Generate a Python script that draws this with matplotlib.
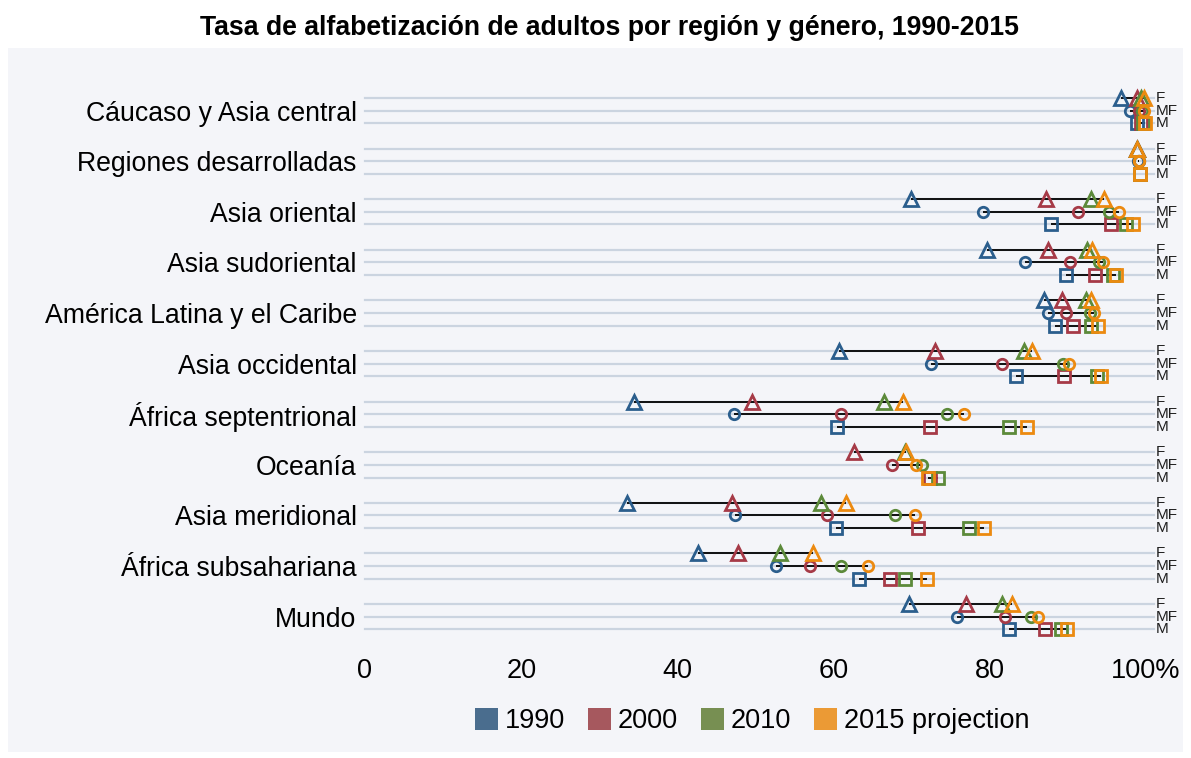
import numpy as np
import matplotlib
matplotlib.use("Agg")
import matplotlib.pyplot as plt
from matplotlib.patches import Rectangle, Patch

plt.rcParams['font.family'] = ['Liberation Sans', 'DejaVu Sans']

nan = np.nan
regions = ["Cáucaso y Asia central", "Regiones desarrolladas", "Asia oriental",
           "Asia sudoriental", "América Latina y el Caribe", "Asia occidental",
           "África septentrional", "Oceanía", "Asia meridional",
           "África subsahariana", "Mundo"]
genders = ["F", "MF", "M"]
years = ["1990", "2000", "2010", "2015 projection"]

F_1990 = [96.8, 98.8, 69.9, 79.6, 86.9, 60.7, 34.4, nan, 33.6, 42.6, 69.7]
F_2000 = [98.8, 98.9, 87.2, 87.4, 89.2, 73.0, 49.6, 62.6, 47.0, 47.7, 77.0]
F_2010 = [99.3, 98.9, 92.9, 92.4, 92.3, 84.4, 66.5, 69.1, 58.4, 53.1, 81.6]
F_2015 = [99.8, 98.9, 94.6, 93.1, 92.9, 85.4, 68.9, 69.3, 61.6, 57.3, 82.8]

MF_1990 = [97.9, 99.0, 79.1, 84.5, 87.5, 72.5, 47.3, nan, 47.4, 52.6, 75.8]
MF_2000 = [99.1, 99.1, 91.3, 90.3, 89.8, 81.5, 61.0, 67.5, 59.2, 57.0, 81.9]
MF_2010 = [99.5, 99.1, 95.2, 94.0, 92.8, 89.4, 74.5, 71.3, 67.9, 60.9, 85.3]
MF_2015 = [99.8, 99.1, 96.5, 94.5, 93.3, 90.2, 76.7, 70.6, 70.4, 64.4, 86.2]

M_1990 = [98.8, 99.2, 87.8, 89.8, 88.4, 83.4, 60.4, nan, 60.3, 63.2, 82.5]
M_2000 = [99.3, 99.2, 95.5, 93.5, 90.7, 89.5, 72.3, 72.4, 70.8, 67.2, 87.1]
M_2010 = [99.6, 99.2, 97.5, 95.8, 93.0, 93.7, 82.4, 73.4, 77.3, 69.2, 89.1]
M_2015 = [99.9, 99.2, 98.3, 96.2, 93.8, 94.3, 84.8, 72.1, 79.2, 71.9, 89.9]

data = {
    "F": [F_1990, F_2000, F_2010, F_2015],
    "MF": [MF_1990, MF_2000, MF_2010, MF_2015],
    "M": [M_1990, M_2000, M_2010, M_2015],
}
markers = {"F": "^", "MF": "o", "M": "s"}
msizes = {"F": 9.8, "MF": 7.5, "M": 8.5}
mcolors = ['#2B5E8D', '#A63A47', '#5C8A3A', '#EC8A10']
lcolors = ['#4A6D8E', '#A6585E', '#778F52', '#EB9A35']
xticks = [0, 20, 40, 60, 80, 100]
xticklabels = ["0", "20", "40", "60", "80", "100%"]

W, H = 1191, 758
BG = '#F4F5F9'
fig = plt.figure(figsize=(W / 100, H / 100), dpi=100)
fig.patch.set_facecolor('white')
fig.patches.append(Rectangle((8 / W, 1 - 752 / H), (1183 - 8) / W, (752 - 48) / H,
                             transform=fig.transFigure, facecolor=BG,
                             edgecolor='none', zorder=-10))

top_px, bot_px = 79.0, 648.3
ax = fig.add_axes([365 / W, 1 - bot_px / H, 781 / W, (bot_px - top_px) / H])
ax.set_zorder(5)
ax.set_facecolor('none')
ax.set_xlim(0, 100)
ax.set_ylim(43.5, -1.5)
for s in ax.spines.values():
    s.set_visible(False)

for gi, reg in enumerate(regions):
    for ri, g in enumerate(genders):
        y = gi * 4 + ri
        ax.plot([0, 101], [y, y], color='#CBD4E0', lw=1.6, clip_on=False, zorder=1)
        ax.text(101.2, y, g, fontsize=11, va='center', ha='left', color='#1E1E1E')
        vals = [data[g][k][gi] for k in range(4)]
        v = [x for x in vals if not np.isnan(x)]
        ax.plot([min(v), max(v)], [y, y], color='black', lw=1.3, zorder=2,
                solid_capstyle='butt')
        for k in range(4):
            if np.isnan(vals[k]):
                continue
            ax.plot([vals[k]], [y], marker=markers[g], ms=msizes[g],
                    mfc='none', mec=mcolors[k], mew=2.0, linestyle='none',
                    zorder=3 + k, clip_on=False)

ax.set_yticks([gi * 4 + 1 for gi in range(len(regions))])
ax.set_yticklabels(regions, fontsize=19.2)
ax.set_xticks(xticks)
ax.set_xticklabels(xticklabels, fontsize=19.5)
ax.tick_params(axis='both', length=0)
ax.tick_params(axis='y', pad=6)
ax.tick_params(axis='x', pad=7)

fig.text(609.5 / W, 1 - 28 / H, "Tasa de alfabetización de adultos por región y género, 1990-2015",
         ha='center', va='center', fontsize=19.2, fontweight='bold')

handles = [Patch(facecolor=c, edgecolor='none') for c in lcolors]
fig.legend(handles, years, loc='center', bbox_to_anchor=(752 / W, 1 - 721 / H),
           ncol=4, frameon=False, fontsize=19.5, handlelength=0.85,
           handleheight=0.85, handletextpad=0.25, columnspacing=0.85,
           borderaxespad=0)

fig.savefig("out.png", dpi=100)
